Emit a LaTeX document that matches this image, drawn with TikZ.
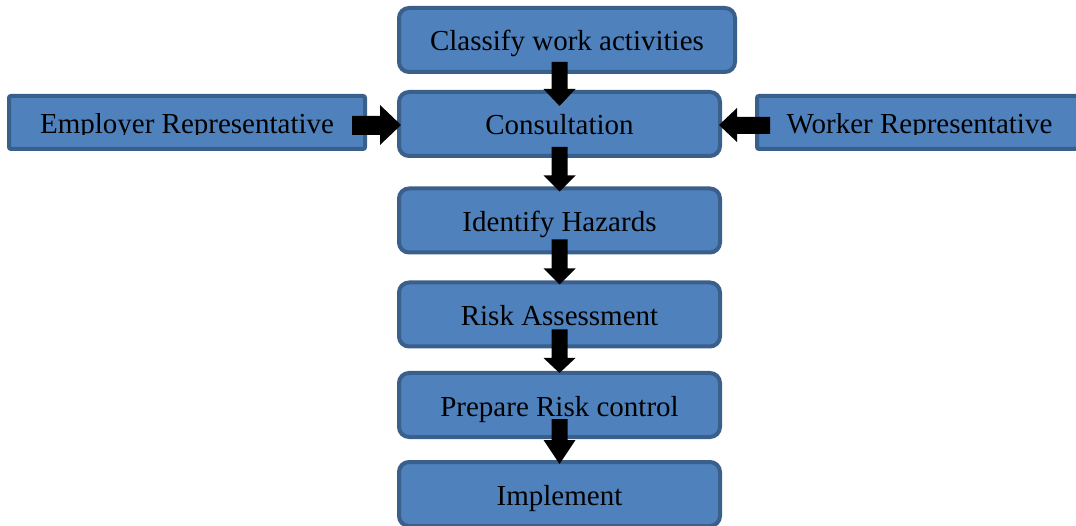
\documentclass[tikz,border=0pt]{standalone}
\usepackage{fontspec}
\setmainfont{Liberation Serif}
\usepackage{trimclip}
\usetikzlibrary{calc}
\definecolor{boxfill}{HTML}{4F81BD}
\definecolor{boxline}{HTML}{3A5F8B}
\tikzset{
  stepbox/.style={draw=boxline, fill=boxfill, line width=4pt, rounded corners=10pt,
    minimum height=64pt, inner sep=0pt, text height=24pt, text depth=2pt,
    font=\fontsize{29}{34}\selectfont},
  sidebox/.style={stepbox, rounded corners=2pt, minimum height=53pt},
  blk/.style={fill=black}
}
% downward block arrow: #1 source node, #2 target node,
% #3 shaft start above the source's bottom, #4 tip depth into the target, #5 head length
\newcommand\downblk[5]{%
  \fill[blk] let \p1=(#1.south), \p2=(#2.north) in
    (\x2-8pt,\y1+#3pt) -- (\x2-8pt,\y2-#4pt+#5pt) -- (\x2-16pt,\y2-#4pt+#5pt)
    -- (\x2,\y2-#4pt) -- (\x2+16pt,\y2-#4pt+#5pt) -- (\x2+8pt,\y2-#4pt+#5pt)
    -- (\x2+8pt,\y1+#3pt) -- cycle;}
\begin{document}
\begin{tikzpicture}[x=1pt,y=-1pt]
\useasboundingbox (0,0) rectangle (1076,526);
\clip (0,0) rectangle (1076,526);
% main sequence
\node[stepbox, minimum width=336pt] (cls) at (567,40) {Classify work activities};
\node[stepbox, minimum width=321pt] (con) at (559.5,124) {Consultation};
\node[stepbox, minimum width=321pt] (haz) at (559.5,220.5) {Identify Hazards};
\node[stepbox, minimum width=321pt] (risk) at (559.5,314.5) {Risk Assessment};
\node[stepbox, minimum width=321pt] (ctl) at (559.5,405) {Prepare Risk control};
\node[stepbox, minimum width=321pt] (imp) at (559.5,494) {Implement};
% representatives on both sides
\node[sidebox, minimum width=356pt] (emp) at (187,122.5)
  {\clipbox{0pt 5pt 0pt 0pt}{Employer Representative}};
\node[sidebox, minimum width=325pt] (wrk) at (919.5,122.5)
  {\clipbox{0pt 5pt 0pt 0pt}{Worker Representative}};
% flow arrows
\downblk{cls}{con}{12}{16}{17}
\downblk{con}{haz}{11}{5}{16}
\downblk{haz}{risk}{15}{4}{16}
\downblk{risk}{ctl}{19}{2}{15}
\downblk{ctl}{imp}{20}{4}{24}
% side arrows into the consultation
\fill[blk] let \p1=(emp.east), \p2=(con.west) in
  (\x1-15pt,\y2+8pt) -- (\x2-17pt,\y2+8pt) -- (\x2-17pt,\y2+19pt) -- (\x2+4pt,\y2-1pt)
  -- (\x2-17pt,\y2-21pt) -- (\x2-17pt,\y2-11pt) -- (\x1-15pt,\y2-11pt) -- cycle;
\fill[blk] let \p1=(wrk.west), \p2=(con.east) in
  (\x1+15pt,\y2+7pt) -- (\x2+15pt,\y2+7pt) -- (\x2+15pt,\y2+16pt) -- (\x2-3pt,\y2-1pt)
  -- (\x2+15pt,\y2-18pt) -- (\x2+15pt,\y2-10pt) -- (\x1+15pt,\y2-10pt) -- cycle;
\end{tikzpicture}
\end{document}
